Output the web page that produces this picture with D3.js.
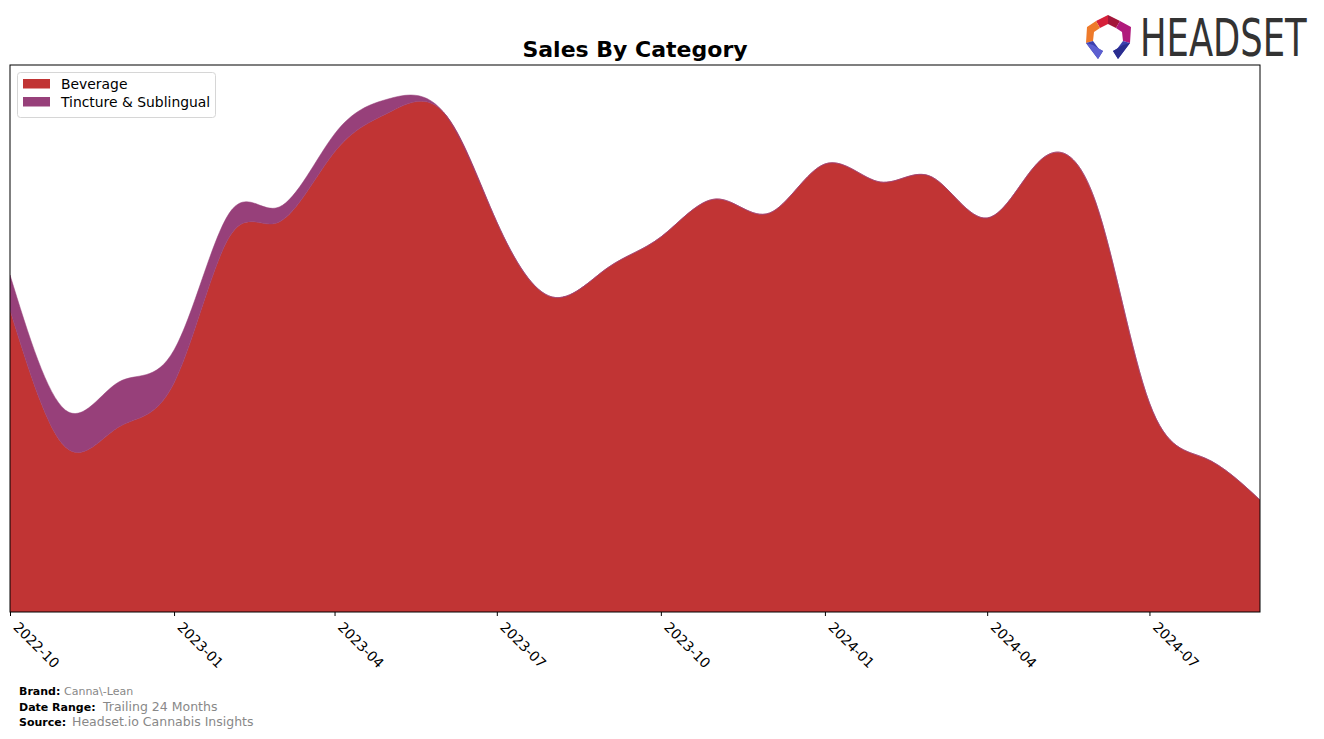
<!DOCTYPE html>
<html>
<head>
<meta charset="utf-8">
<script src="https://cdn.jsdelivr.net/npm/d3@7"></script>
<style>
  body { margin: 0; background: #fff; }
  svg { display: block; }
</style>
</head>
<body>
<svg id="chart" width="1324" height="739"></svg>
<script>
// ---- data ----
const months = ["2022-10","2022-11","2022-12","2023-01","2023-02","2023-03","2023-04","2023-05","2023-06","2023-07","2023-08","2023-09","2023-10","2023-11","2023-12","2024-01","2024-02","2024-03","2024-04","2024-05","2024-06","2024-07","2024-08","2024-09"];
const beverage = [3020,1650,1850,2290,3750,3900,4600,4990,5000,3900,3150,3440,3750,4130,3990,4480,4300,4350,3940,4520,4090,2090,1540,1120];
const tincture = [350,370,450,330,240,150,180,140,0,0,0,0,0,0,0,0,0,0,0,0,0,0,0,0];
const seriesNames = ["Beverage","Tincture & Sublingual"];
const seriesColors = ["#c13434","#97407a"];
const tickLabels = ["2022-10","2023-01","2023-04","2023-07","2023-10","2024-01","2024-04","2024-07"];

const svg = d3.select("#chart");
const plot = {left: 10, right: 1260, top: 65, bottom: 612};

const parse = d3.timeParse("%Y-%m");
const rows = months.map((m, i) => ({date: parse(m), b: beverage[i], t: tincture[i]}));

const x = d3.scaleTime()
  .domain([parse(months[0]), parse(months[months.length - 1])])
  .range([plot.left, plot.right]);
const y = d3.scaleLinear()
  .domain([0, 5470])
  .range([plot.bottom, plot.top]);

const layers = d3.stack().keys(["b", "t"])(rows);

const area = d3.area()
  .x(d => x(d.data.date))
  .y0(d => y(d[0]))
  .y1(d => y(d[1]))
  .curve(d3.curveNatural);

svg.append("defs").append("clipPath").attr("id", "clip")
  .append("rect").attr("x", plot.left).attr("y", plot.top)
  .attr("width", plot.right - plot.left).attr("height", plot.bottom - plot.top);

const g = svg.append("g").attr("clip-path", "url(#clip)");
g.selectAll("path.layer").data(layers).enter().append("path")
  .attr("class", "layer")
  .attr("d", area)
  .attr("fill", (d, i) => seriesColors[i])
  .attr("stroke", (d, i) => seriesColors[i])
  .attr("stroke-width", 0.5);

// frame
svg.append("rect")
  .attr("x", plot.left).attr("y", plot.top)
  .attr("width", plot.right - plot.left).attr("height", plot.bottom - plot.top)
  .attr("fill", "none").attr("stroke", "#000").attr("stroke-width", 1);

// x axis
const xAxis = d3.axisBottom(x)
  .tickValues(tickLabels.map(parse))
  .tickSize(4)
  .tickFormat(d3.timeFormat("%Y-%m"));
const ax = svg.append("g")
  .attr("transform", `translate(0,${plot.bottom})`)
  .call(xAxis);
ax.select(".domain").remove();
ax.selectAll(".tick line").attr("stroke", "#000");
ax.selectAll(".tick text")
  .attr("font-family", "DejaVu Sans, sans-serif")
  .attr("font-size", 13.9)
  .attr("fill", "#000")
  .attr("text-anchor", "start")
  .attr("y", 0).attr("dy", 0)
  .attr("transform", "translate(2,16) rotate(45)");

// title
svg.append("text")
  .attr("x", 635).attr("y", 57)
  .attr("text-anchor", "middle")
  .attr("font-family", "DejaVu Sans, sans-serif")
  .attr("font-weight", "bold")
  .attr("font-size", 22)
  .text("Sales By Category");

// legend
const lg = svg.append("g");
lg.append("rect")
  .attr("x", 17.5).attr("y", 72.5).attr("width", 198).attr("height", 45)
  .attr("rx", 3).attr("fill", "#fff").attr("fill-opacity", 0.8)
  .attr("stroke", "#d6d6d6");
seriesNames.forEach((name, i) => {
  lg.append("rect")
    .attr("x", 23).attr("y", 79 + i * 18).attr("width", 27).attr("height", 9.5)
    .attr("fill", seriesColors[i]);
  lg.append("text")
    .attr("x", 61).attr("y", 89 + i * 18)
    .attr("font-family", "DejaVu Sans, sans-serif")
    .attr("font-size", 13.9)
    .text(name);
});

// footer
const foot = [
  {label: "Brand:", value: "Canna\\-Lean", y: 695, vs: 11, vx: 64},
  {label: "Date Range:", value: "Trailing 24 Months", y: 711, vs: 12.5, vx: 103},
  {label: "Source:", value: "Headset.io Cannabis Insights", y: 726, vs: 12.5, vx: 72}
];
foot.forEach(f => {
  svg.append("text").attr("x", 19).attr("y", f.y)
    .attr("font-family", "DejaVu Sans, sans-serif").attr("font-weight", "bold")
    .attr("font-size", 11).text(f.label);
  svg.append("text").attr("x", f.vx).attr("y", f.y)
    .attr("font-family", "DejaVu Sans, sans-serif")
    .attr("font-size", f.vs).attr("fill", "#888").text(f.value);
});

// logo
const logo = svg.append("g").attr("transform", "translate(1086,15)");
const polys = [
  {p: "M10,6 L22,0 L22,9 L14,13 Z", c: "#d6203a"},
  {p: "M22,0 L34,6 L30,13 L22,9 Z", c: "#a3163a"},
  {p: "M34,6 L45,12 L44,28 L37,26 L36,17 L30,13 Z", c: "#b01a7c"},
  {p: "M10,6 L14,13 L8,17 L7,26 L0,28 L1,12 Z", c: "#ee7a2a"},
  {p: "M0,28 L7,26 L13,34 L17,36 L12,44 Z", c: "#3b3fae"},
  {p: "M0,28 L12,44 L17,36 L7,30 Z", c: "#5c5fd0"},
  {p: "M44,28 L37,26 L31,34 L27,36 L32,44 Z", c: "#3b3fae"},
  {p: "M44,28 L32,44 L27,36 L37,30 Z", c: "#2a2d8f"}
];
polys.forEach(d => logo.append("path").attr("d", d.p).attr("fill", d.c));
svg.append("g")
  .attr("transform", "translate(1140,56) scale(0.77,1)")
  .append("text")
  .attr("x", 0).attr("y", 0)
  .attr("font-family", "Liberation Sans Narrow, DejaVu Sans Condensed, sans-serif")
  .attr("font-size", 51)
  .attr("fill", "#333")
  .text("HEADSET");
</script>
</body>
</html>
